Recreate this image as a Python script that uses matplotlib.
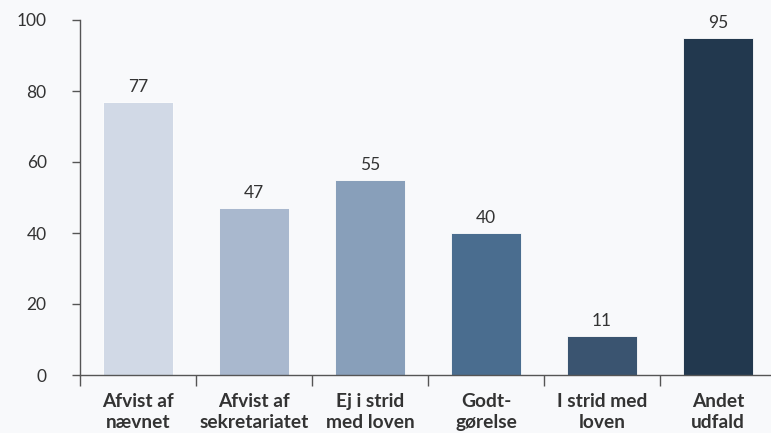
import numpy as np
import matplotlib.pyplot as plt

categories = ["Afvist af\nnævnet", "Afvist af\nsekretariatet", "Ej i strid\nmed loven",
              "Godt-\ngørelse", "I strid med\nloven", "Andet\nudfald"]
values = [77, 47, 55, 40, 11, 95]
colors = ["#d1d9e6", "#a9b8ce", "#889fba", "#4a6d8f", "#3a5470", "#22384e"]
yticks = [0, 20, 40, 60, 80, 100]

plt.rcParams['font.family'] = ['Lato', 'DejaVu Sans']
bg = "#f8f9fb"
txt = "#333333"

fig = plt.figure(figsize=(7.71, 4.33), dpi=100, facecolor=bg)
ax = fig.add_axes([80/771, (433-375)/433, 696/771, (375-20)/433], facecolor=bg)

x = np.arange(len(categories))
ax.bar(x, values, width=0.6, color=colors, edgecolor="#ffffff", linewidth=0.6, zorder=2)
for xi, v in zip(x, values):
    ax.text(xi, v + 2, str(v), ha="center", va="bottom", fontsize=12.5, color=txt)

ax.set_xlim(-0.5, len(categories) - 0.5)
ax.set_ylim(0, 100)
ax.set_yticks(yticks)
ax.tick_params(axis="y", length=6, width=1, color="#555555", labelsize=12.5,
               labelcolor=txt, pad=18)

ax.set_xticks(x)
ax.set_xticklabels(categories, fontweight="bold", fontsize=13.8, color=txt, linespacing=1.3)
ax.set_xticks(np.arange(len(categories)) - 0.5, minor=True)
ax.tick_params(axis="x", which="major", length=0, pad=13)
ax.tick_params(axis="x", which="minor", length=8, width=1, color="#555555")

for s in ["top", "right"]:
    ax.spines[s].set_visible(False)
for s in ["left", "bottom"]:
    ax.spines[s].set_color("#555555")
    ax.spines[s].set_linewidth(1)

fig.savefig("out.png", dpi=100, facecolor=bg)
